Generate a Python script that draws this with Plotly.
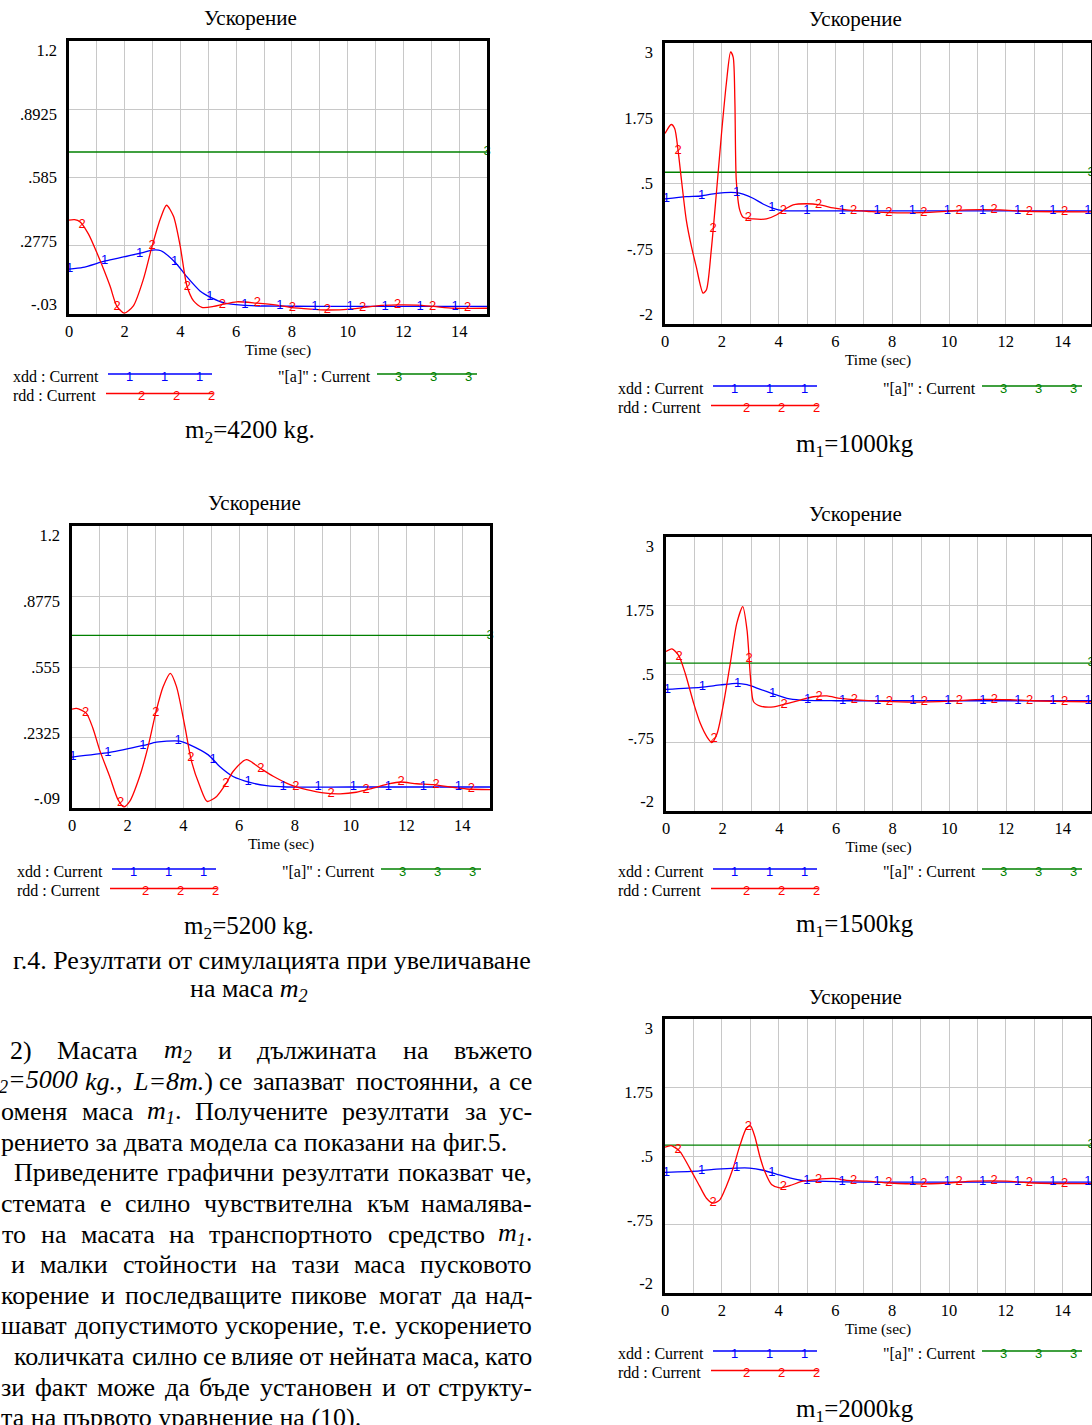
import re
import numpy as np
import plotly.graph_objects as go

W, H = 1092, 1425

# ------------------------------------------------------------------ data
T_LIMIT = [0, 15]
A_LIMIT = [0.7, 0.7]          # "[a]" : Current  (allowed acceleration)

# m2 = 4200 kg
T_XDD_4200 = [0, 0.5, 1.3, 2.0, 2.6, 3.0, 3.3, 3.83, 4.2, 4.7, 5.1, 5.6, 6.2, 7, 8, 10, 12, 15]
XDD_4200 = [0.172, 0.180, 0.209, 0.228, 0.245, 0.258, 0.255, 0.200, 0.142, 0.074, 0.044, 0.019,
            0.010, 0.006, 0.005, 0.004, 0.004, 0.004]
T_RDD_4200 = [0, 0.2, 0.4, 0.7, 1.0, 1.47, 1.71, 1.98, 2.31, 2.67, 2.97, 3.27, 3.5, 3.75, 3.99,
              4.23, 4.47, 4.77, 5.19, 5.54, 6.02, 6.74, 7.46, 7.94, 8.66, 9.26, 10.1, 11.05,
              11.77, 12.49, 13.09, 13.8, 15]
RDD_4200 = [0.393, 0.395, 0.385, 0.33, 0.246, 0.097, 0.007, -0.026, 0.007, 0.127, 0.27, 0.396,
            0.46, 0.41, 0.276, 0.097, 0.029, 0.0, 0.004, 0.014, 0.025, 0.019, 0.01, 0.0, -0.008,
            -0.012, -0.008, 0.007, 0.011, 0.01, 0.004, -0.004, -0.004]

# m2 = 5200 kg
T_XDD_5200 = [0, 1.35, 2.55, 3.03, 3.4, 3.87, 4.23, 4.89, 5.3, 5.78, 6.38, 6.98, 7.7, 10, 15]
XDD_5200 = [0.143, 0.164, 0.196, 0.211, 0.216, 0.216, 0.199, 0.153, 0.10, 0.054, 0.027, 0.012,
            0.006, 0.006, 0.006]
T_RDD_5200 = [0, 0.16, 0.51, 0.75, 0.99, 1.35, 1.65, 1.86, 2.07, 2.43, 2.73, 3.03, 3.27, 3.53,
              3.75, 4.05, 4.29, 4.59, 4.85, 5.19, 5.54, 5.78, 6.26, 6.74, 7.22, 7.82, 8.42, 9.02,
              9.62, 10.2, 10.8, 11.4, 11.77, 12.37, 12.97, 13.57, 14.17, 15]
RDD_5200 = [0.362, 0.366, 0.344, 0.275, 0.176, 0.055, -0.052, -0.085, -0.06, 0.055, 0.191, 0.359,
            0.465, 0.526, 0.465, 0.283, 0.123, 0.009, -0.06, -0.037, 0.024, 0.077, 0.131, 0.093,
            0.055, 0.017, -0.006, -0.021, -0.025, -0.018, 0.001, 0.021, 0.029, 0.021, 0.017,
            0.006, -0.003, -0.006]

# m1 = 1000 kg
T_XDD_1000 = [0, 0.75, 1.28, 1.81, 2.51, 2.75, 3.1, 3.45, 3.81, 4.16, 5, 15]
XDD_1000 = [0.225, 0.266, 0.278, 0.325, 0.337, 0.31, 0.237, 0.136, 0.059, 0.018, 0.012, 0.012]
T_RDD_1000 = [0, 0.22, 0.34, 0.46, 0.58, 0.75, 0.93, 1.1, 1.34, 1.46, 1.63, 1.81, 1.99, 2.16,
              2.31, 2.4, 2.46, 2.51, 2.63, 2.75, 3.1, 3.57, 3.92, 4.28, 4.51, 4.98, 5.45, 5.92,
              6.39, 7.1, 7.92, 8.98, 9.92, 10.6, 11.8, 12.7, 15]
RDD_1000 = [1.39, 1.55, 1.48, 1.09, 0.56, -0.15, -0.62, -0.98, -1.45, -1.39, -0.68, 0.33, 1.39,
            2.28, 2.84, 2.75, 1.98, 0.56, 0.03, -0.1, -0.13, -0.13, -0.06, 0.06, 0.12, 0.14,
            0.12, 0.065, 0.03, 0.006, -0.02, -0.02, 0.006, 0.03, 0.03, 0.006, -0.006]

# m1 = 1500 kg
T_XDD_1500 = [0, 1.21, 1.92, 2.5, 2.86, 3.33, 3.8, 4.27, 4.74, 6, 15]
XDD_1500 = [0.22, 0.256, 0.30, 0.33, 0.305, 0.22, 0.134, 0.055, 0.024, 0.012, 0.012]
T_RDD_1500 = [0, 0.21, 0.45, 0.68, 0.98, 1.21, 1.45, 1.62, 1.8, 2.03, 2.27, 2.5, 2.71, 2.86,
              2.98, 3.09, 3.33, 3.8, 4.27, 4.74, 5.21, 5.68, 6.15, 6.85, 7.68, 8.85, 10.03,
              11.2, 12.14, 12.97, 15]
RDD_1500 = [0.91, 0.96, 0.835, 0.51, -0.04, -0.40, -0.65, -0.75, -0.59, -0.04, 0.70, 1.43, 1.73,
            1.30, 0.45, -0.006, -0.085, -0.1, -0.04, 0.024, 0.085, 0.1, 0.055, 0.024, 0.0,
            -0.012, 0.006, 0.037, 0.03, 0.012, -0.006]

# m1 = 2000 kg
T_XDD_2000 = [0, 1.22, 1.81, 2.51, 2.98, 3.45, 3.92, 4.39, 4.86, 5.33, 7, 15]
XDD_2000 = [0.20, 0.23, 0.26, 0.28, 0.28, 0.24, 0.17, 0.10, 0.05, 0.04, 0.025, 0.025]
T_RDD_2000 = [0, 0.22, 0.52, 0.87, 1.22, 1.46, 1.69, 1.93, 2.16, 2.4, 2.63, 2.87, 3.01, 3.16,
              3.34, 3.51, 3.75, 4.04, 4.39, 4.86, 5.33, 5.92, 6.39, 7.1, 7.92, 8.98, 9.92,
              10.86, 12.03, 12.97, 15]
RDD_2000 = [0.66, 0.69, 0.585, 0.28, -0.05, -0.27, -0.36, -0.30, -0.05, 0.28, 0.68, 1.01, 1.05,
            0.86, 0.49, 0.22, -0.02, -0.08, -0.04, 0.04, 0.07, 0.09, 0.055, 0.04, 0.007, -0.01,
            0.007, 0.04, 0.04, 0.007, -0.005]

# tick labels
X_TICK_VALS = [0, 2, 4, 6, 8, 10, 12, 14]
X_TICK_LABELS = ["0", "2", "4", "6", "8", "10", "12", "14"]
Y_TICKS_4200 = [-0.03, 0.2775, 0.585, 0.8925, 1.2]
Y_LABELS_4200 = ["-.03", ".2775", ".585", ".8925", "1.2"]
Y_TICKS_5200 = [-0.09, 0.2325, 0.555, 0.8775, 1.2]
Y_LABELS_5200 = ["-.09", ".2325", ".555", ".8775", "1.2"]
Y_TICKS_M1 = [-2, -0.75, 0.5, 1.75, 3]
Y_LABELS_M1 = ["-2", "-.75", ".5", "1.75", "3"]

CHART_TITLE = "Ускорение"
X_TITLE = "Time (sec)"
LEG_XDD = "xdd : Current"
LEG_RDD = "rdd : Current"
LEG_A = "\"[a]\" : Current"
CAPTIONS = ["m<sub>2</sub>=4200 kg.", "m<sub>2</sub>=5200 kg.",
            "m<sub>1</sub>=1000kg", "m<sub>1</sub>=1500kg", "m<sub>1</sub>=2000kg"]

FIG_CAPTION_1 = "г.4. Резултати от симулацията при увеличаване"
FIG_CAPTION_2 = "на маса <i>m</i><sub><i>2</i></sub>"

BODY_LINES = [
    ["2)", "Масата", "<i>m</i><sub><i>2</i></sub>", "и", "дължината", "на", "въжето"],
    ["<sub><i>2</i></sub><i>=5000</i>", "<i>kg.</i>,", "<i>L=8m.</i>)", "се", "запазват",
     "постоянни,", "а", "се"],
    ["оменя", "маса", "<i>m</i><sub><i>1</i></sub>.", "Получените", "резултати", "за", "ус-"],
    ["рението за двата модела са показани на фиг.5."],
    ["Приведените", "графични", "резултати", "показват", "че,"],
    ["стемата", "е", "силно", "чувствителна", "към", "намалява-"],
    ["то", "на", "масата", "на", "транспортното", "средство", "<i>m</i><sub><i>1</i></sub>."],
    ["и", "малки", "стойности", "на", "тази", "маса", "пусковото"],
    ["корение", "и", "последващите", "пикове", "могат", "да", "над-"],
    ["шават", "допустимото", "ускорение,", "т.е.", "ускорението"],
    ["количката", "силно", "се", "влияе", "от", "нейната", "маса,", "като"],
    ["зи", "факт", "може", "да", "бъде", "установен", "и", "от", "структу-"],
    ["та на първото уравнение на (10)."],
]

# ------------------------------------------------------------------ styling
SERIF = "Liberation Serif"
SANS = "Liberation Sans"
BLUE, RED, GREEN = "rgb(0,0,255)", "rgb(255,0,0)", "rgb(0,128,0)"
GRID = "rgb(200,200,200)"
MARK_SIZE = 13

PANELS = [
    dict(box=(69, 41, 487, 314), title=(250, 18), cap=(250, 432), leg=(11, 376),
         t_x=T_XDD_4200, xdd=XDD_4200, t_r=T_RDD_4200, rdd=RDD_4200,
         yt=Y_TICKS_4200, yl=Y_LABELS_4200, step=1.258, ob=0.02, orr=0.47),
    dict(box=(72, 526, 490, 808), title=(254, 503), cap=(249, 927), leg=(15, 871),
         t_x=T_XDD_5200, xdd=XDD_5200, t_r=T_RDD_5200, rdd=RDD_5200,
         yt=Y_TICKS_5200, yl=Y_LABELS_5200, step=1.258, ob=0.03, orr=0.49),
    dict(box=(665, 43, 1091, 324), title=(855, 19), cap=(855, 445), leg=(616, 388),
         t_x=T_XDD_1000, xdd=XDD_1000, t_r=T_RDD_1000, rdd=RDD_1000,
         yt=Y_TICKS_M1, yl=Y_LABELS_M1, step=1.237, ob=0.05, orr=0.46),
    dict(box=(666, 537, 1091, 811), title=(855, 514), cap=(855, 925), leg=(616, 871),
         t_x=T_XDD_1500, xdd=XDD_1500, t_r=T_RDD_1500, rdd=RDD_1500,
         yt=Y_TICKS_M1, yl=Y_LABELS_M1, step=1.237, ob=0.05, orr=0.46),
    dict(box=(665, 1019, 1091, 1293), title=(855, 997), cap=(855, 1410), leg=(616, 1353),
         t_x=T_XDD_2000, xdd=XDD_2000, t_r=T_RDD_2000, rdd=RDD_2000,
         yt=Y_TICKS_M1, yl=Y_LABELS_M1, step=1.237, ob=0.05, orr=0.46),
]


def px(x):
    return x / W


def py(y):
    return 1 - y / H


fig = go.Figure()
annotations = []
shapes = []
layout = {}

for i, p in enumerate(PANELS, start=1):
    l, t, r, b = p["box"]
    xa, ya, ylab = f"x{i}", f"y{i}", f"y{i + 5}"
    ylo, yhi = p["yt"][0], p["yt"][-1]

    # lines
    fig.add_trace(go.Scatter(x=T_LIMIT, y=A_LIMIT, mode="lines", xaxis=xa, yaxis=ya,
                             line=dict(color=GREEN, width=1.3), hoverinfo="skip"))
    fig.add_trace(go.Scatter(x=p["t_x"], y=p["xdd"], mode="lines", xaxis=xa, yaxis=ya,
                             line=dict(color=BLUE, width=1.3, shape="spline", smoothing=0.7),
                             hoverinfo="skip"))
    fig.add_trace(go.Scatter(x=p["t_r"], y=p["rdd"], mode="lines", xaxis=xa, yaxis=ya,
                             line=dict(color=RED, width=1.3, shape="spline", smoothing=0.7),
                             hoverinfo="skip"))
    # empty trace so that the label axis is drawn
    fig.add_trace(go.Scatter(x=[], y=[], xaxis=xa, yaxis=ylab, hoverinfo="skip"))

    # Vensim-style numbered markers along each curve
    mb = np.arange(p["ob"], 15.0, p["step"])
    mr = np.arange(p["orr"], 15.0, p["step"])
    for xs, tt, yy, col, lab in [
        (mb, p["t_x"], p["xdd"], BLUE, "1"),
        (mr, p["t_r"], p["rdd"], RED, "2"),
        (np.array([15.0]), T_LIMIT, A_LIMIT, GREEN, "3"),
    ]:
        fig.add_trace(go.Scatter(x=xs, y=np.interp(xs, tt, yy), mode="text", text=[lab] * len(xs),
                                 textposition="middle center", xaxis=xa, yaxis=ya,
                                 cliponaxis=False,
                                 textfont=dict(family=SANS, size=MARK_SIZE, color=col),
                                 hoverinfo="skip"))

    axis_line = dict(showline=True, mirror=True, linecolor="black", linewidth=2.5,
                     zeroline=False, ticks="")
    layout[f"xaxis{i}"] = dict(domain=[px(l), px(r)], anchor=ya, range=[0, 15],
                               tickmode="array", tickvals=X_TICK_VALS, ticktext=X_TICK_LABELS,
                               showgrid=True, gridcolor=GRID, gridwidth=1.3,
                               minor=dict(tickmode="linear", tick0=0, dtick=1, showgrid=True,
                                          gridcolor=GRID, gridwidth=1.3, ticks=""),
                               tickfont=dict(family=SERIF, size=16.5, color="black"),
                               ticklabelstandoff=0, automargin=False,
                               title=dict(text=X_TITLE, standoff=2,
                                          font=dict(family=SERIF, size=15.5, color="black")),
                               **axis_line)
    layout[f"yaxis{i}"] = dict(domain=[py(b), py(t)], anchor=xa, range=[ylo, yhi],
                               tickmode="array", tickvals=p["yt"], showticklabels=False,
                               showgrid=True, gridcolor=GRID, gridwidth=1.3, automargin=False,
                               **axis_line)
    # label axis: Vensim draws the labels pulled slightly toward the centre
    ext = 10.0 / (b - t) * (yhi - ylo)
    layout[f"yaxis{i + 5}"] = dict(overlaying=ya, anchor=xa, side="left",
                                   range=[ylo - ext, yhi + ext], tickmode="array",
                                   tickvals=p["yt"], ticktext=p["yl"], showgrid=False,
                                   showline=False, zeroline=False, ticks="",
                                   ticklabelstandoff=11, automargin=False,
                                   tickfont=dict(family=SERIF, size=16.5, color="black"))

    # chart title & caption
    annotations.append(dict(x=px(p["title"][0]), y=py(p["title"][1]), xref="paper", yref="paper",
                            text=CHART_TITLE, showarrow=False, xanchor="center", yanchor="middle",
                            font=dict(family=SERIF, size=21, color="black")))
    annotations.append(dict(x=px(p["cap"][0]), y=py(p["cap"][1]), xref="paper", yref="paper",
                            text=CAPTIONS[i - 1], showarrow=False, xanchor="center",
                            yanchor="middle", font=dict(family=SERIF, size=25, color="black")))

    # legend block
    lx, ly = p["leg"]
    rows = [(LEG_XDD, lx, ly, lx + 97, lx + 201, BLUE, "1", [21, 56, 91]),
            (LEG_RDD, lx, ly + 19.5, lx + 95, lx + 202, RED, "2", [33, 68, 103]),
            (LEG_A, lx + 265, ly, lx + 366, lx + 466, GREEN, "3", [21, 56, 91])]
    for txt, tx, ty, x0, x1, col, lab, offs in rows:
        annotations.append(dict(x=px(tx), y=py(ty), xref="paper", yref="paper", text=txt,
                                showarrow=False, xanchor="left", yanchor="middle",
                                font=dict(family=SERIF, size=16, color="black")))
        shapes.append(dict(type="line", xref="paper", yref="paper", x0=px(x0), x1=px(x1),
                           y0=py(ty - 2), y1=py(ty - 2), line=dict(color=col, width=1.3)))
        base = x0 if lab != "2" else x0 + 2
        for o in offs:
            annotations.append(dict(x=px(base + o), y=py(ty), xref="paper", yref="paper",
                                    text=lab, showarrow=False, xanchor="center", yanchor="middle",
                                    font=dict(family=SANS, size=MARK_SIZE, color=col)))

# ------------------------------------------------------------------ body text
CW = {' ': 250, '.': 250, ',': 250, '(': 333, ')': 333, '-': 333, '=': 564, ':': 278,
      'а': 444, 'б': 509, 'в': 472, 'г': 410, 'д': 509, 'е': 444, 'ж': 691, 'з': 395,
      'и': 535, 'й': 535, 'к': 486, 'л': 499, 'м': 633, 'н': 535, 'о': 500, 'п': 535,
      'р': 500, 'с': 444, 'т': 437, 'у': 500, 'ф': 648, 'х': 500, 'ц': 535, 'ч': 503,
      'ш': 770, 'щ': 770, 'ъ': 517, 'ы': 672, 'ь': 456, 'э': 429, 'ю': 747, 'я': 460,
      'М': 889, 'П': 722, 'Р': 556, 'm': 722, 'k': 444, 'g': 500, 'L': 556}


def text_width(html, size):
    total, scale = 0.0, 1.0
    for tok in re.split(r"(<[^>]+>)", html):
        if tok.startswith("<"):
            if tok == "<sub>":
                scale = 0.7
            elif tok == "</sub>":
                scale = 1.0
            continue
        for ch in tok:
            total += CW.get(ch, 500) * scale
    return total * size / 1000.0


BODY_SIZE = 26
RIGHT_EDGE = 533
LINE_STARTS = [9, -2, 0, 0, 13, 0, 1, 10, 0, 0, 13, 0, 0]
for k, words in enumerate(BODY_LINES):
    yk = 1050.5 + k * 30.6
    x0 = LINE_STARTS[k]
    font = dict(family=SERIF, size=BODY_SIZE, color="black")
    if len(words) == 1:
        annotations.append(dict(x=px(x0), y=py(yk), xref="paper", yref="paper", text=words[0],
                                showarrow=False, xanchor="left", yanchor="middle", font=font,
                                borderpad=0))
        continue
    widths = [text_width(w, BODY_SIZE) for w in words]
    gap = (RIGHT_EDGE - x0 - sum(widths)) / (len(words) - 1)
    pos = x0
    for j, w in enumerate(words):
        if j == len(words) - 1:
            annotations.append(dict(x=px(RIGHT_EDGE), y=py(yk), xref="paper", yref="paper",
                                    text=w, showarrow=False, xanchor="right", yanchor="middle",
                                    font=font, borderpad=0))
        else:
            annotations.append(dict(x=px(pos), y=py(yk), xref="paper", yref="paper", text=w,
                                    showarrow=False, xanchor="left", yanchor="middle",
                                    font=font, borderpad=0))
        pos += widths[j] + gap

annotations.append(dict(x=px(533), y=py(960), xref="paper", yref="paper", text=FIG_CAPTION_1,
                        showarrow=False, xanchor="right", yanchor="middle",
                        font=dict(family=SERIF, size=26, color="black")))
annotations.append(dict(x=px(249), y=py(990), xref="paper", yref="paper", text=FIG_CAPTION_2,
                        showarrow=False, xanchor="center", yanchor="middle",
                        font=dict(family=SERIF, size=26, color="black")))

fig.update_layout(width=W, height=H, autosize=False, margin=dict(l=0, r=0, t=0, b=0),
                  paper_bgcolor="white", plot_bgcolor="white", showlegend=False,
                  annotations=annotations, shapes=shapes, **layout)
fig.write_html("out.html", config={"displayModeBar": False},
               post_script="document.body.style.margin='0';document.body.style.padding='0';")
